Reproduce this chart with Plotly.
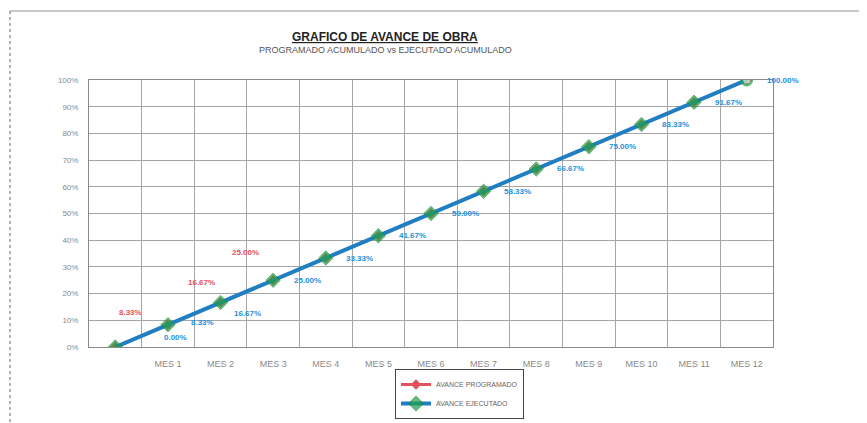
import plotly.graph_objects as go

# ---- data ----
categories = ["", "MES 1", "MES 2", "MES 3", "MES 4", "MES 5", "MES 6",
              "MES 7", "MES 8", "MES 9", "MES 10", "MES 11", "MES 12"]
programado = [0.00, 8.33, 16.67, 25.00, 33.33, 41.67, 50.00, 58.33, 66.67, 75.00, 83.33, 91.67, 100.00]
ejecutado = [0.00, 8.33, 16.67, 25.00, 33.33, 41.67, 50.00, 58.33, 66.67, 75.00, 83.33, 91.67, 100.00]
programado_labels_idx = [1, 2, 3]
y_ticks = [0, 10, 20, 30, 40, 50, 60, 70, 80, 90, 100]

FONT = "Liberation Sans, Arial, sans-serif"
RED = "#e4515c"
BLUE = "#1f7fc4"
LBLUE = "#1e90dc"
GREEN = "#22a046"

OFF = 8  # page body margin
L, R, T, B = 89 - OFF, 773 - OFF, 80 - OFF, 347 - OFF
W, H = 867 - OFF, 423 - OFF
PW, PH = R - L, B - T


def px_x(x):
    return (x - OFF - L) / PW


def px_y(y):
    return (B - (y - OFF)) / PH


fig = go.Figure()

fig.add_trace(go.Scatter(
    x=categories, y=programado, mode="lines+markers", name="AVANCE PROGRAMADO",
    line=dict(color=RED, width=3),
    marker=dict(symbol="diamond", size=8, color=RED),
))

n = len(ejecutado)
ej_symbols = ["diamond"] * (n - 1) + ["circle"]
ej_sizes = [11] * (n - 1) + [10]
ej_colors = [GREEN] * (n - 1) + ["#dff2e2"]
fig.add_trace(go.Scatter(
    x=categories, y=ejecutado, mode="lines+markers", name="AVANCE EJECUTADO",
    line=dict(color=BLUE, width=4),
    marker=dict(symbol=ej_symbols, size=ej_sizes, color=ej_colors,
                line=dict(color=["#1d8a3e"] * (n - 1) + [GREEN], width=[1] * (n - 1) + [3])),
))

# ---- data labels ----
annotations = []
ej_shifts = {0: (60, 10), 1: (35, 2), 2: (27, -11)}
for i, v in enumerate(ejecutado):
    xs, ys = ej_shifts.get(i, (34, 0))
    if i == n - 1:
        xs = 36
    annotations.append(dict(
        x=i, y=v, xref="x", yref="y", text=f"{v:.2f}%", showarrow=False,
        xshift=xs, yshift=ys,
        font=dict(family=FONT, size=8, color=LBLUE, weight="bold"),
    ))
pr_shifts = {1: (-37, 12), 2: (-19, 20), 3: (-28, 28)}
for i in programado_labels_idx:
    xs, ys = pr_shifts[i]
    annotations.append(dict(
        x=i, y=programado[i], xref="x", yref="y",
        text=f"{programado[i]:.2f}%", showarrow=False, xshift=xs, yshift=ys,
        font=dict(family=FONT, size=8, color=RED, weight="bold"),
    ))

annotations.append(dict(
    x=px_x(385), y=px_y(37), xref="paper", yref="paper", xanchor="center", yanchor="middle",
    text="<b><u>GRAFICO DE AVANCE DE OBRA</u></b>", showarrow=False,
    font=dict(family=FONT, size=12, color="#222222"),
))
annotations.append(dict(
    x=px_x(385), y=px_y(50), xref="paper", yref="paper",
    xanchor="center", yanchor="middle",
    text="PROGRAMADO ACUMULADO vs EJECUTADO ACUMULADO", showarrow=False,
    font=dict(family=FONT, size=9, color="#555555"),
))

fig.update_layout(
    width=W, height=H,
    margin=dict(l=L, r=W - R, t=T, b=H - B, autoexpand=False),
    paper_bgcolor="white", plot_bgcolor="white",
    font=dict(family=FONT, color="#777777"),
    annotations=annotations,
    showlegend=True,
    legend=dict(
        xref="container", yref="container",
        x=(395 - OFF) / W, y=1 - (369 - OFF) / H, xanchor="left", yanchor="top",
        orientation="v", bordercolor="#444444", borderwidth=1,
        bgcolor="white", font=dict(family=FONT, size=7, color="#666666"),
        itemwidth=30, tracegroupgap=0,
    ),
    shapes=[
        dict(type="line", xref="paper", yref="paper",
             x0=px_x(10), x1=px_x(867), y0=px_y(11), y1=px_y(11),
             line=dict(color="#c8c8c8", width=2)),
        dict(type="line", xref="paper", yref="paper",
             x0=px_x(10), x1=px_x(10), y0=px_y(11), y1=px_y(423),
             line=dict(color="#666666", width=1, dash="dot")),
    ],
)

fig.update_xaxes(
    type="category", range=[-0.5, len(categories) - 0.5], automargin=False,
    tickson="boundaries", showgrid=True, gridcolor="#a5a5a5", gridwidth=1,
    showline=True, linecolor="#8a8a8a", linewidth=1, mirror=True,
    ticks="", tickfont=dict(family=FONT, size=9, color="#8a8a8a"),
    zeroline=False, ticklabelstandoff=8,
)
fig.update_yaxes(
    range=[0, 100], tickvals=y_ticks, ticktext=[f"{t}%" for t in y_ticks], automargin=False,
    showgrid=True, gridcolor="#a5a5a5", gridwidth=1,
    showline=True, linecolor="#8a8a8a", linewidth=1, mirror=True,
    ticks="", tickfont=dict(family=FONT, size=8, color="#8a8a8a"),
    zeroline=False, ticklabelstandoff=8,
)

fig.write_html("out.html")
